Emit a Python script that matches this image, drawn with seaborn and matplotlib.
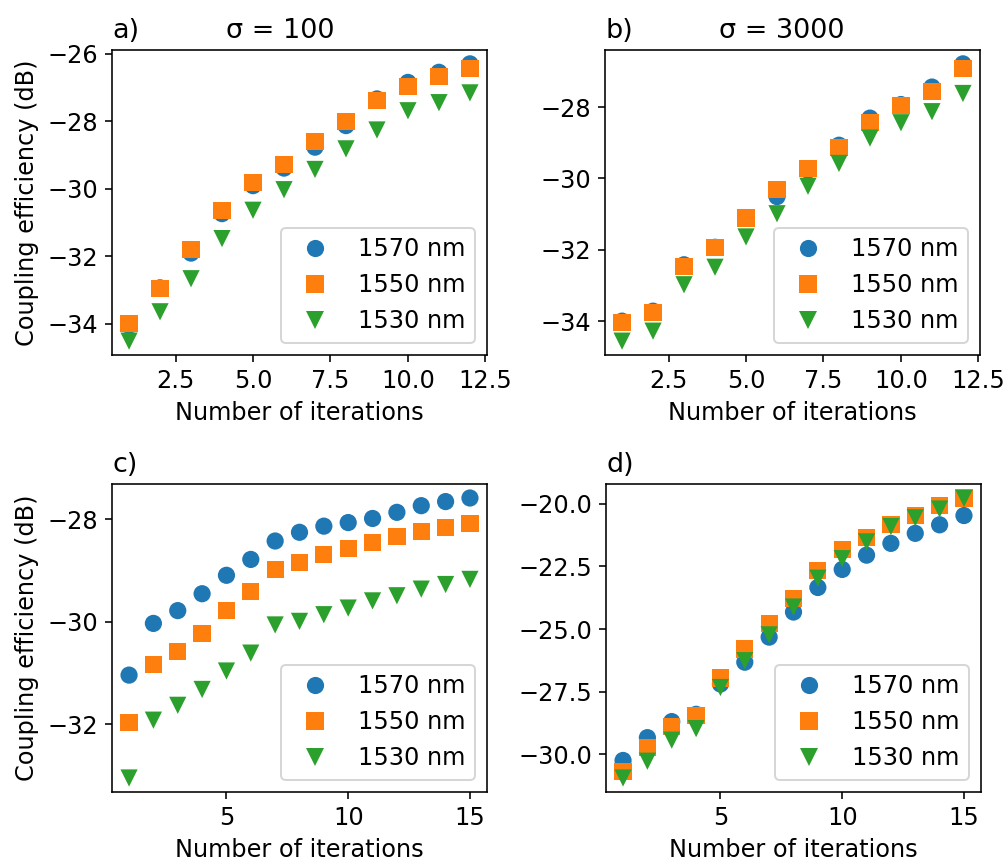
import numpy as np
import pandas as pd
import matplotlib
matplotlib.use("Agg")
import matplotlib.pyplot as plt
import seaborn as sns

# Coupling efficiency (dB) versus optimisation iteration, for three wavelengths
wavelengths = ["1570 nm", "1550 nm", "1530 nm"]
markers = ["o", "s", "v"]
colors = ["#1f77b4", "#ff7f0e", "#2ca02c"]

iters_ab = list(range(1, 13))
iters_cd = list(range(1, 16))

a_1570 = [-34.05, -32.94, -31.91, -30.74, -29.91, -29.39, -28.77, -28.13, -27.34, -26.85, -26.55, -26.30]
a_1550 = [-34.00, -32.97, -31.80, -30.64, -29.81, -29.29, -28.60, -28.00, -27.38, -26.98, -26.68, -26.44]
a_1530 = [-34.52, -33.65, -32.67, -31.48, -30.64, -30.03, -29.43, -28.82, -28.26, -27.69, -27.45, -27.16]

b_1570 = [-34.00, -33.72, -32.42, -31.93, -31.12, -30.51, -29.77, -29.07, -28.31, -27.93, -27.44, -26.79]
b_1550 = [-34.03, -33.75, -32.47, -31.94, -31.11, -30.31, -29.73, -29.13, -28.44, -27.96, -27.57, -26.93]
b_1530 = [-34.56, -34.28, -32.98, -32.49, -31.64, -30.99, -30.22, -29.58, -28.87, -28.44, -28.13, -27.62]

c_1570 = [-31.04, -30.03, -29.78, -29.45, -29.09, -28.78, -28.42, -28.25, -28.13, -28.06,
          -27.98, -27.86, -27.73, -27.65, -27.58]
c_1550 = [-31.97, -30.83, -30.58, -30.22, -29.78, -29.40, -28.97, -28.84, -28.69, -28.57,
          -28.45, -28.33, -28.23, -28.16, -28.08]
c_1530 = [-33.05, -31.92, -31.63, -31.32, -30.96, -30.61, -30.06, -29.99, -29.86, -29.73,
          -29.59, -29.49, -29.36, -29.27, -29.17]

d_1570 = [-30.24, -29.33, -28.69, -28.40, -27.19, -26.32, -25.32, -24.32, -23.34, -22.62,
          -22.05, -21.58, -21.18, -20.84, -20.47]
d_1550 = [-30.67, -29.73, -28.89, -28.45, -26.95, -25.79, -24.79, -23.78, -22.66, -21.84,
          -21.35, -20.82, -20.47, -20.07, -19.77]
d_1530 = [-30.94, -30.27, -29.43, -28.97, -27.33, -26.26, -25.23, -24.12, -22.97, -22.19,
          -21.52, -20.91, -20.56, -20.21, -19.79]

panels = [
    ("a)", "σ = 100", iters_ab, [a_1570, a_1550, a_1530]),
    ("b)", "σ = 3000", iters_ab, [b_1570, b_1550, b_1530]),
    ("c)", "", iters_cd, [c_1570, c_1550, c_1530]),
    ("d)", "", iters_cd, [d_1570, d_1550, d_1530]),
]

plt.rcParams["font.family"] = ["DejaVu Sans"]
plt.rcParams["font.size"] = 12
plt.rcParams["axes.titlesize"] = 13.5

W, H = 1008, 863
fig = plt.figure(figsize=(W / 144, H / 144), dpi=144)

# axes boxes in pixels: left, top, right, bottom
boxes = [(112, 50, 487, 355), (605, 50, 980, 355),
         (112, 484, 487, 792), (606, 484, 981, 792)]

for (tag, title, iters, series), (l, t, r, b) in zip(panels, boxes):
    ax = fig.add_axes([l / W, 1 - b / H, (r - l) / W, (b - t) / H])
    frames = [pd.DataFrame({"iteration": iters, "efficiency": vals, "wavelength": wl})
              for wl, vals in zip(wavelengths, series)]
    df = pd.concat(frames, ignore_index=True)
    sns.scatterplot(data=df, x="iteration", y="efficiency", hue="wavelength",
                    style="wavelength", hue_order=wavelengths, style_order=wavelengths,
                    markers=markers, palette=colors, s=74, linewidth=0, ax=ax)
    sns.move_legend(ax, "lower right", title=None)
    ax.set_xlabel("Number of iterations")
    if tag in ("a)", "c)"):
        ax.set_ylabel("Coupling efficiency (dB)")
    else:
        ax.set_ylabel("")
    ax.set_title(tag, loc="left")
    if title:
        ax.set_title(title, x=0.304, ha="left")

fig.savefig("out.png", dpi=144)
